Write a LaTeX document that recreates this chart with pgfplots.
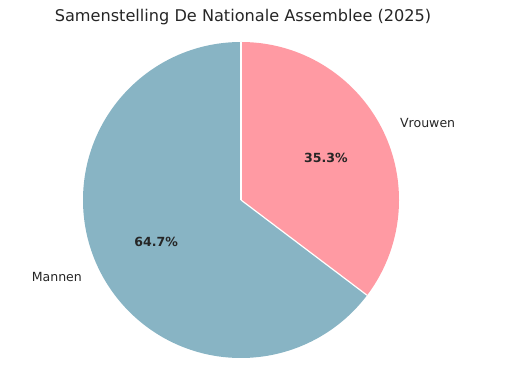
\documentclass[border=0pt]{standalone}
\usepackage{pgfplots}
\usepackage{pgfplotstable}
\pgfplotsset{compat=1.18}
\usetikzlibrary{calc}
\usepackage{fontspec}
\setmainfont{DejaVu Sans}
\definecolor{vrouw}{RGB}{255,154,163}
\definecolor{man}{RGB}{136,180,196}
\definecolor{txt}{RGB}{38,38,38}
\pgfplotstableread{
label value
Vrouwen 35.3
Mannen 64.7
}\piedata
\pgfplotstablegetelem{0}{value}\of\piedata \let\vV\pgfplotsretval
\pgfplotstablegetelem{1}{value}\of\piedata \let\vM\pgfplotsretval
\begin{document}
\begin{tikzpicture}
\begin{axis}[
  scale only axis, width=514bp, height=375bp,
  xmin=0, xmax=514, ymin=0, ymax=375,
  hide axis, clip=false,
]
\path (axis cs:0,0) rectangle (axis cs:514,375);
\pgfmathsetmacro{\fV}{\vV/(\vV+\vM)}
\pgfmathsetmacro{\fM}{\vM/(\vV+\vM)}
\pgfmathsetmacro{\aV}{90-360*\fV}
\pgfmathsetmacro{\aMend}{90+360*\fM}
\pgfmathsetmacro{\mV}{90-180*\fV}
\pgfmathsetmacro{\mM}{\aV-180*\fM}
% Vrouwen slice
\fill[vrouw] (axis cs:241,175) -- ++(90:158bp) arc[start angle=90, end angle=\aV, radius=158bp] -- cycle;
% Mannen slice
\fill[man] (axis cs:241,175) -- ++(90:158bp) arc[start angle=90, end angle=\aMend, radius=158bp] -- cycle;
\draw[white, line width=1.2pt] (axis cs:241,175) -- ++(90:158bp);
\draw[white, line width=1.2pt] (axis cs:241,175) -- ++(\aV:158bp);
% labels
\node[anchor=west, font=\fontsize{12.6}{14}\selectfont, text=txt] at ($(axis cs:241,175)+(\mV:173.8bp)$) {Vrouwen};
\node[anchor=east, font=\fontsize{12.6}{14}\selectfont, text=txt] at ($(axis cs:241,175)+(\mM:173.8bp)$) {Mannen};
\node[font=\fontsize{12.6}{14}\selectfont\bfseries, text=txt] at ($(axis cs:241,175)+(\mV:94.8bp)$) {35.3\%};
\node[font=\fontsize{12.6}{14}\selectfont\bfseries, text=txt] at ($(axis cs:241,175)+(\mM:94.8bp)$) {64.7\%};
\node[font=\fontsize{16.2}{18}\selectfont, text=txt] at (axis cs:243,358) {Samenstelling De Nationale Assemblee (2025)};
\end{axis}
\end{tikzpicture}
\end{document}
